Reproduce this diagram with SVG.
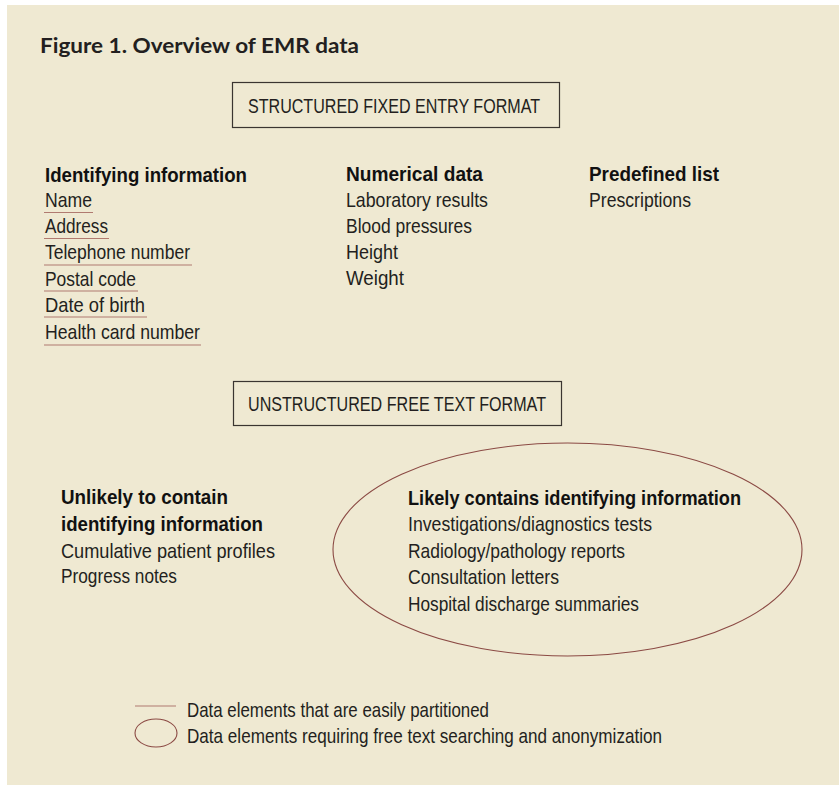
<svg xmlns="http://www.w3.org/2000/svg" width="839" height="785" viewBox="0 0 839 785">
  <style>
    .title { font-family: "Lato", "Liberation Sans", sans-serif; font-weight: 700; font-size: 20px; fill: #231f20; }
    .t { font-family: "Liberation Sans", "DejaVu Sans", sans-serif; font-size: 21px; fill: #231f20; }
    .b { font-family: "Liberation Sans", "DejaVu Sans", sans-serif; font-size: 21px; font-weight: 700; fill: #111111; }
    .box { fill: none; stroke: #3a3530; stroke-width: 1.2; }
    .ul { stroke: #b07a70; stroke-width: 1.2; }
    .oval { fill: none; stroke: #8b4a44; stroke-width: 1.1; }
  </style>

  <!-- panel background -->
  <rect x="7" y="5" width="832" height="780" fill="#efe9d2"/>

  <text class="title" x="40" y="53" textLength="319" lengthAdjust="spacingAndGlyphs">Figure 1. Overview of EMR data</text>

  <!-- structured section header -->
  <g id="structured">
    <rect class="box" x="232.5" y="82.5" width="327" height="45"/>
    <text class="t" x="248" y="113" textLength="292" lengthAdjust="spacingAndGlyphs">STRUCTURED FIXED ENTRY FORMAT</text>
  </g>

  <!-- identifying information column -->
  <g id="identifying">
    <text class="b" x="45" y="182" textLength="202" lengthAdjust="spacingAndGlyphs">Identifying information</text>
    <text class="t" x="45" y="207" textLength="47" lengthAdjust="spacingAndGlyphs">Name</text>
    <text class="t" x="45" y="233" textLength="63" lengthAdjust="spacingAndGlyphs">Address</text>
    <text class="t" x="45" y="259" textLength="145" lengthAdjust="spacingAndGlyphs">Telephone number</text>
    <text class="t" x="45" y="286" textLength="91" lengthAdjust="spacingAndGlyphs">Postal code</text>
    <text class="t" x="45" y="312" textLength="100" lengthAdjust="spacingAndGlyphs">Date of birth</text>
    <text class="t" x="45" y="339" textLength="155" lengthAdjust="spacingAndGlyphs">Health card number</text>
  </g>

  <!-- numerical data column -->
  <g id="numerical">
    <text class="b" x="346" y="181" textLength="137" lengthAdjust="spacingAndGlyphs">Numerical data</text>
    <text class="t" x="346" y="207" textLength="142" lengthAdjust="spacingAndGlyphs">Laboratory results</text>
    <text class="t" x="346" y="233" textLength="126" lengthAdjust="spacingAndGlyphs">Blood pressures</text>
    <text class="t" x="346" y="259" textLength="52" lengthAdjust="spacingAndGlyphs">Height</text>
    <text class="t" x="346" y="285" textLength="58" lengthAdjust="spacingAndGlyphs">Weight</text>
  </g>

  <!-- predefined list column -->
  <g id="predefined">
    <text class="b" x="589" y="181" textLength="130" lengthAdjust="spacingAndGlyphs">Predefined list</text>
    <text class="t" x="589" y="207" textLength="102" lengthAdjust="spacingAndGlyphs">Prescriptions</text>
  </g>

  <!-- unstructured section header -->
  <g id="unstructured">
    <rect class="box" x="233.5" y="381.5" width="328" height="44"/>
    <text class="t" x="248" y="411" textLength="298" lengthAdjust="spacingAndGlyphs">UNSTRUCTURED FREE TEXT FORMAT</text>
  </g>

  <g id="unlikely">
    <text class="b" x="61" y="504" textLength="167" lengthAdjust="spacingAndGlyphs">Unlikely to contain</text>
    <text class="b" x="61" y="531" textLength="202" lengthAdjust="spacingAndGlyphs">identifying information</text>
    <text class="t" x="61" y="558" textLength="214" lengthAdjust="spacingAndGlyphs">Cumulative patient profiles</text>
    <text class="t" x="61" y="583" textLength="116" lengthAdjust="spacingAndGlyphs">Progress notes</text>
  </g>

  <g id="likely">
    <ellipse class="oval" cx="567.5" cy="549.5" rx="234.5" ry="106.5"/>
    <text class="b" x="408" y="505" textLength="333" lengthAdjust="spacingAndGlyphs">Likely contains identifying information</text>
    <text class="t" x="408" y="531" textLength="244" lengthAdjust="spacingAndGlyphs">Investigations/diagnostics tests</text>
    <text class="t" x="408" y="558" textLength="217" lengthAdjust="spacingAndGlyphs">Radiology/pathology reports</text>
    <text class="t" x="408" y="584" textLength="151" lengthAdjust="spacingAndGlyphs">Consultation letters</text>
    <text class="t" x="408" y="611" textLength="231" lengthAdjust="spacingAndGlyphs">Hospital discharge summaries</text>
  </g>

  <!-- partition underlines -->
  <g id="connectors">
    <line class="ul" x1="44" y1="212.5" x2="93" y2="212.5"/>
    <line class="ul" x1="44" y1="238.5" x2="109" y2="238.5"/>
    <line class="ul" x1="44" y1="265" x2="192" y2="265"/>
    <line class="ul" x1="44" y1="291" x2="138" y2="291"/>
    <line class="ul" x1="44" y1="317" x2="147" y2="317"/>
    <line class="ul" x1="44" y1="345" x2="201" y2="345"/>
  </g>

  <!-- legend -->
  <g id="legend">
    <line class="ul" x1="135" y1="706" x2="176" y2="706"/>
    <ellipse class="oval" cx="156" cy="733" rx="21" ry="14"/>
    <text class="t" x="187" y="717" textLength="302" lengthAdjust="spacingAndGlyphs">Data elements that are easily partitioned</text>
    <text class="t" x="187" y="743" textLength="475" lengthAdjust="spacingAndGlyphs">Data elements requiring free text searching and anonymization</text>
  </g>
</svg>
